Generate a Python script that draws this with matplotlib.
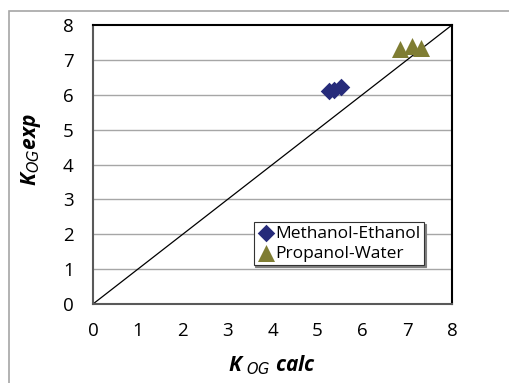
import matplotlib
matplotlib.use('Agg')
import matplotlib.pyplot as plt
from matplotlib.patches import Rectangle

# Methanol-Ethanol system
meth_calc = [5.25, 5.38, 5.52]
meth_exp = [6.10, 6.13, 6.22]

# Propanol-Water system
prop_calc = [6.85, 7.10, 7.32]
prop_exp = [7.30, 7.40, 7.34]

ticks = list(range(0, 9))

plt.rcParams['font.family'] = ['Open Sans', 'DejaVu Sans']

fig = plt.figure(figsize=(5.10, 3.83), dpi=100)
ax = fig.add_axes([93 / 510, 1 - 304 / 383, (452 - 93) / 510, (304 - 25) / 383])

# outer chart-area border
fig.patches.append(Rectangle((9 / 510, -0.1), 1.2, 1 - 11 / 383 + 0.1,
                             transform=fig.transFigure, fill=False,
                             edgecolor='#a6a6a6', linewidth=1.2))

for t in ticks[1:-1]:
    ax.axhline(t, color='#a6a6a6', linewidth=1.0, zorder=0)

ax.plot([0, 8], [0, 8], color='black', linewidth=0.9, zorder=1)
ax.scatter(meth_calc, meth_exp, marker='D', s=80, color='#262b7a',
           label='Methanol-Ethanol', zorder=3, linewidths=0)
ax.scatter(prop_calc, prop_exp, marker='^', s=150, color='#7f7d33',
           label='Propanol-Water', zorder=3, linewidths=0)

ax.set_xlim(0, 8)
ax.set_ylim(0, 8)
ax.set_xticks(ticks)
ax.set_yticks(ticks)
ax.tick_params(length=0, labelsize=13.5)
ax.tick_params(axis='x', pad=13)
ax.tick_params(axis='y', pad=14)

for side in ['left', 'bottom']:
    ax.spines[side].set_color('#595959')
    ax.spines[side].set_linewidth(1.5)
for side in ['top', 'right']:
    ax.spines[side].set_color('black')
    ax.spines[side].set_linewidth(1.5)

fig.text(272 / 510, 1 - 365 / 383, r'K $_{OG}$ calc',
         ha='center', va='center', fontsize=15, fontweight='bold',
         fontstyle='italic')
fig.text(31 / 510, 1 - 150 / 383, r'K$_{OG}$exp', ha='center', va='center',
         rotation=90, fontsize=15, fontweight='bold', fontstyle='italic')

leg = ax.legend(loc='lower right', bbox_to_anchor=((424 - 93) / 359, (304 - 265) / 279),
                frameon=True, fancybox=False,
                shadow={'ox': 1.2, 'oy': -1.2, 'color': '#808080', 'alpha': 1.0},
                fontsize=12.5, handletextpad=0.05, borderpad=0.2, labelspacing=0.2,
                handlelength=1.0, borderaxespad=0)
leg.get_frame().set_edgecolor('#333333')
leg.get_frame().set_linewidth(0.8)

plt.savefig('out.png', dpi=100)
plt.close()
